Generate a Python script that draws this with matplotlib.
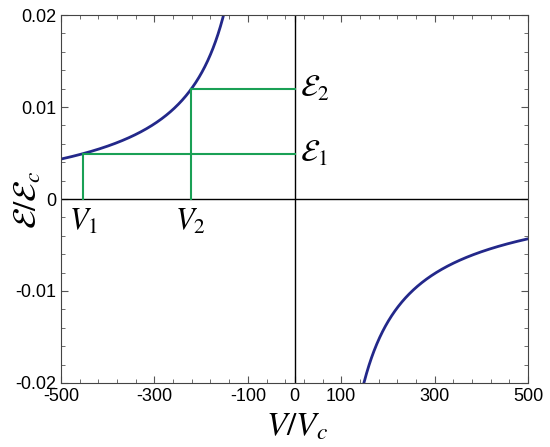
import matplotlib.pyplot as plt
import numpy as np

plt.rcParams['font.family'] = ['Liberation Sans', 'DejaVu Sans']
plt.rcParams['mathtext.fontset'] = 'stix'

# curve points
v_left = [-500, -452, -406, -370, -334, -299, -263, -222, -199, -177, -149]
e_left = [0.00435, 0.0049, 0.0057, 0.0064, 0.00714, 0.0081, 0.0095, 0.01196, 0.014, 0.0164, 0.02]
v_right = [149, 162, 183, 212, 247, 283, 326, 361, 397, 433, 500]
e_right = [-0.02, -0.0179, -0.015, -0.01225, -0.01008, -0.00862, -0.00753, -0.00656, -0.0058, -0.0051, -0.00435]

v_marks = [-452, -222]
e_marks = [0.0049, 0.012]
v_names = [r'$V_1$', r'$V_2$']
e_names = [r'$\mathcal{E}_1$', r'$\mathcal{E}_2$']

xticks = [-500, -300, -100, 0, 100, 300, 500]
yticks = [-0.02, -0.01, 0, 0.01, 0.02]

navy = '#23288a'
green = '#1aa055'

fig = plt.figure(figsize=(5.5, 4.47), dpi=100)
ax = fig.add_axes([0.111, 0.1432, 0.849, 0.8232])


# smooth line through the read points: least squares fit of 1/e against V
def smooth(v, e):
    p = np.polyfit(v, 1.0 / np.array(e), 3)
    vv = np.linspace(v[0], v[-1], 400)
    return vv, 1.0 / np.polyval(p, vv)


ax.plot(*smooth(v_left, e_left), color=navy, lw=2)
ax.plot(*smooth(v_right, e_right), color=navy, lw=2)

ax.axhline(0, color='black', lw=1)
ax.axvline(0, color='black', lw=1)

for v, e in zip(v_marks, e_marks):
    ax.plot([v, v], [0, e], color=green, lw=1.5)
    ax.plot([v, 0], [e, e], color=green, lw=1.5)

for v, name in zip(v_marks, v_names):
    ax.text(v, -0.0008, name, fontsize=22, ha='center', va='top')
for e, name in zip(e_marks, e_names):
    ax.text(12, e, name, fontsize=22, ha='left', va='center')

ax.set_xlim(-500, 500)
ax.set_ylim(-0.02, 0.02)
ax.set_xticks(xticks)
ax.set_xticklabels(['-500', '-300', '-100', '0', '100', '300', '500'])
ax.set_yticks(yticks)
ax.set_yticklabels(['-0.02', '-0.01', '0', '0.01', '0.02'])
minor_x = [t for t in range(-500, 501, 40)] + [t for t in range(20, 501, 40)]
ax.set_xticks(sorted(set(minor_x) - set(xticks)), minor=True)
ax.set_yticks(np.arange(-0.02, 0.0201, 0.002), minor=True)
ax.tick_params(which='both', direction='in', top=True, right=True, labelsize=13, color='#555555')
ax.tick_params(which='major', length=5)
ax.tick_params(which='minor', length=3)
for s in ax.spines.values():
    s.set_color('#444444')
    s.set_linewidth(0.8)

fig.text(0.54, 0.045, r'$V/V_c$', fontsize=24, ha='center', va='center')
fig.text(0.051, 0.553, r'$\mathcal{E}/\mathcal{E}_c$', fontsize=24, ha='center', va='center', rotation=90)

fig.savefig('out.png', dpi=100)
